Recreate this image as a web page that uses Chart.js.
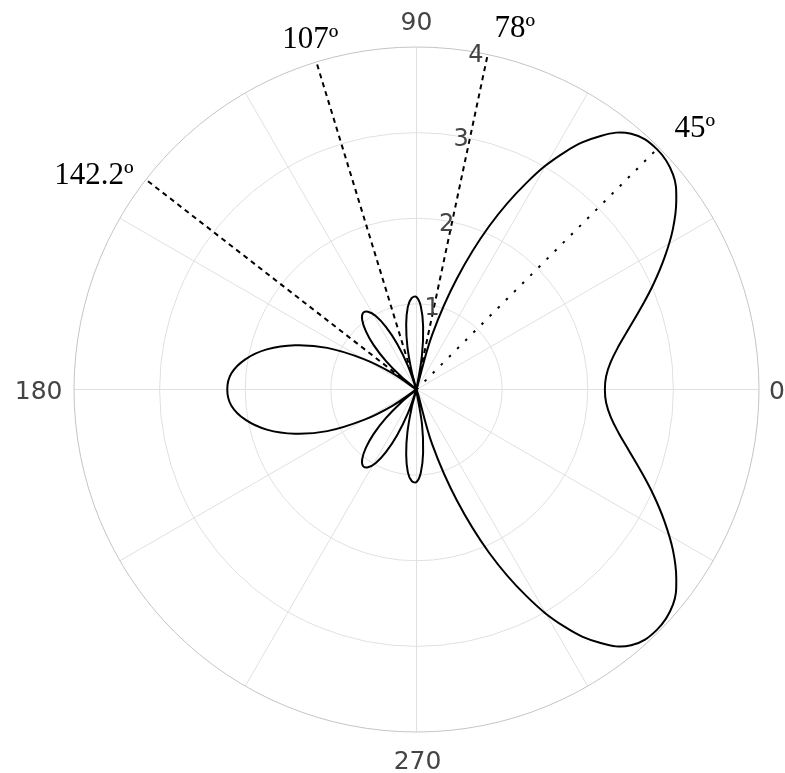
<!DOCTYPE html>
<html>
<head>
<meta charset="utf-8">
<script src="https://cdn.jsdelivr.net/npm/chart.js@4.4.1/dist/chart.umd.min.js"></script>
<style>
  body { margin: 0; background: #fff; }
  canvas { display: block; }
</style>
</head>
<body>
<canvas id="polarChart" width="785" height="773"></canvas>
<script>
// Pattern, upper half (angle in degrees, radius). The lower half is its mirror.
const angles = [0, 4, 8, 12, 16, 20, 24, 28, 32, 36, 40, 45, 50, 54, 58, 62, 66, 70, 74, 78,
    81, 84, 87, 90, 93, 96, 99, 102, 105, 107,
    110, 113, 116, 119, 122, 125, 128, 131, 134, 137, 140, 142.2,
    146, 150, 155, 160, 165, 170, 175, 180];
const radius = [2.20, 2.22, 2.29, 2.41, 2.58, 2.79, 3.03, 3.28, 3.53, 3.75, 3.91, 3.97, 3.90, 3.66, 3.27, 2.73, 2.09, 1.38, 0.67, 0,
    0.41, 0.74, 0.97, 1.08, 1.07, 0.97, 0.77, 0.51, 0.21, 0,
    0.30, 0.58, 0.81, 0.98, 1.07, 1.09, 1.03, 0.90, 0.72, 0.49, 0.23, 0,
    0.34, 0.71, 1.15, 1.51, 1.81, 2.03, 2.17, 2.21];

// Marked directions
const markAngles = [45, 78, 107, 142.2];
const markLength = [3.97, 4, 4, 4];
const markLabels = ['45º', '78º', '107º', '142.2º'];

// Grid
const ringValues = [1, 2, 3, 4];
const spokeAngles = [0, 30, 60, 90, 120, 150, 180, 210, 240, 270, 300, 330];
const axisLabels = ['0', '90', '180', '270'];

const toXY = (deg, r) => ({
    x: r * Math.cos(deg * Math.PI / 180),
    y: r * Math.sin(deg * Math.PI / 180)
});

// Closed path, starting at the null at 78 deg
const curve = [];
const start = angles.indexOf(78);
for (let i = start; i < angles.length; i++) curve.push(toXY(angles[i], radius[i]));
for (let i = angles.length - 2; i >= 0; i--) curve.push(toXY(360 - angles[i], radius[i]));
for (let i = 1; i <= start; i++) curve.push(toXY(360 + angles[i], radius[i]));

const datasets = markAngles.map((a, i) => ({
    data: [{ x: 0, y: 0 }, toXY(a, markLength[i])],
    showLine: true,
    borderColor: '#000',
    borderWidth: 2,
    borderDash: a === 45 ? [2.5, 9] : [5, 4.3],
    pointRadius: 0,
    tension: 0
}));
datasets.push({
    data: curve,
    showLine: true,
    borderColor: '#000',
    borderWidth: 2,
    pointRadius: 0,
    tension: 0.4
});

// label offsets (px) from the end of each marked line
const markOffsets = [[38, -12], [27, -17], [-6, -13.5], [-52, 4]];

const polarGrid = {
    id: 'polarGrid',
    beforeDatasetsDraw(chart) {
        const { ctx, scales: { x, y } } = chart;
        const cx = x.getPixelForValue(0), cy = y.getPixelForValue(0);
        const unit = x.getPixelForValue(1) - cx;
        ctx.save();
        ctx.lineWidth = 1;
        ctx.strokeStyle = '#e0e0e0';
        spokeAngles.forEach(a => {
            const p = toXY(a, 4);
            ctx.beginPath();
            ctx.moveTo(cx, cy);
            ctx.lineTo(x.getPixelForValue(p.x), y.getPixelForValue(p.y));
            ctx.stroke();
        });
        ringValues.forEach(v => {
            ctx.strokeStyle = v === 4 ? '#c4c4c4' : '#e0e0e0';
            ctx.beginPath();
            ctx.arc(cx, cy, v * unit, 0, 2 * Math.PI);
            ctx.stroke();
        });
        ctx.restore();
    },
    afterDatasetsDraw(chart) {
        const { ctx, scales: { x, y } } = chart;
        const cx = x.getPixelForValue(0), cy = y.getPixelForValue(0);
        ctx.save();

        // angular axis labels
        ctx.fillStyle = '#444';
        ctx.font = '25px "DejaVu Sans"';
        ctx.textBaseline = 'alphabetic';
        ctx.textAlign = 'left';
        ctx.fillText(axisLabels[0], x.getPixelForValue(4) + 10, cy + 9);
        ctx.textAlign = 'center';
        ctx.fillText(axisLabels[1], cx, y.getPixelForValue(4) - 17);
        ctx.textAlign = 'right';
        ctx.fillText(axisLabels[2], x.getPixelForValue(-4) - 11.5, cy + 9);
        ctx.textAlign = 'center';
        ctx.fillText(axisLabels[3], cx + 1, y.getPixelForValue(-4) + 36.5);

        // radial ticks
        ctx.font = '24px "DejaVu Sans"';
        ringValues.forEach(v => {
            const p = toXY(80.2, v);
            ctx.fillText(String(v), x.getPixelForValue(p.x) + 1, y.getPixelForValue(p.y) + 10);
        });

        // marked direction labels
        ctx.fillStyle = '#000';
        ctx.font = '31px "Liberation Serif"';
        markAngles.forEach((a, i) => {
            const p = toXY(a, markLength[i]);
            ctx.fillText(markLabels[i], x.getPixelForValue(p.x) + markOffsets[i][0], y.getPixelForValue(p.y) + markOffsets[i][1]);
        });
        ctx.restore();
    }
};

new Chart(document.getElementById('polarChart'), {
    type: 'scatter',
    data: { datasets },
    options: {
        responsive: false,
        animation: false,
        layout: { padding: { left: 74, right: 26, top: 47, bottom: 41 } },
        scales: {
            x: { type: 'linear', min: -4, max: 4, display: false },
            y: { type: 'linear', min: -4, max: 4, display: false }
        },
        plugins: {
            legend: { display: false },
            tooltip: { enabled: false }
        }
    },
    plugins: [polarGrid]
});
</script>
</body>
</html>
